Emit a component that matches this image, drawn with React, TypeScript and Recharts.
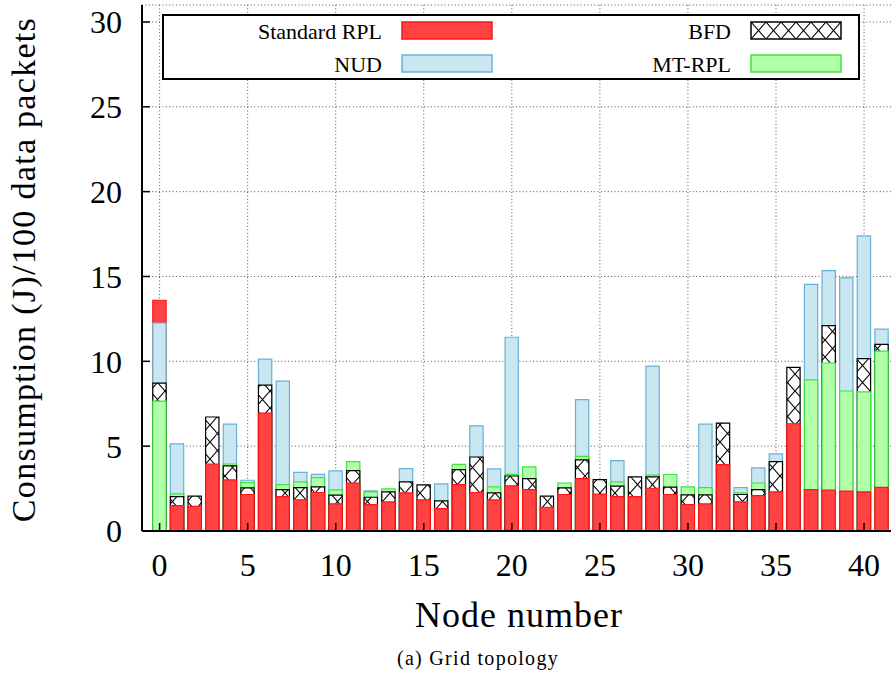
import { BarChart, Bar, XAxis, YAxis, CartesianGrid, Legend, Cell } from 'recharts';

const FONT = '"Liberation Serif", "Times New Roman", serif';

// node ids on the x axis
const nodes = [
  0, 1, 2, 3, 4, 5, 6, 7, 8, 9, 10, 11, 12, 13, 14, 15, 16, 17, 18, 19, 20,
  21, 22, 23, 24, 25, 26, 27, 28, 29, 30, 31, 32, 33, 34, 35, 36, 37, 38, 39, 40, 41,
];

// consumption (J) per 100 data packets (0 = not drawn)
const standardRpl = [
  13.6, 1.5, 1.45, 3.95, 3.01, 2.15, 6.95, 2.03, 1.84, 2.27, 1.6, 2.83, 1.56, 1.72,
  2.25, 1.83, 1.32, 2.73, 2.27, 1.83, 2.66, 2.44, 1.4, 2.15, 3.09, 2.17, 2.03, 2.03,
  2.52, 2.15, 1.56, 1.6, 3.91, 1.72, 2.09, 2.3, 6.32, 2.44, 2.41, 2.35, 2.31, 2.57,
];
const bfd = [
  8.72, 2.03, 2.05, 6.72, 3.84, 2.54, 8.6, 2.44, 2.56, 2.6, 2.12, 3.56, 1.99, 2.3,
  2.9, 2.72, 1.77, 3.62, 4.36, 2.25, 3.24, 3.09, 2.05, 2.54, 4.19, 3.03, 2.64, 3.19,
  3.19, 2.58, 2.13, 2.13, 6.36, 2.15, 2.44, 4.09, 9.64, 0, 12.1, 0, 10.16, 11.0,
];
const nud = [
  12.26, 5.13, 0, 0, 6.3, 2.99, 10.13, 8.83, 3.46, 3.34, 3.54, 0, 2.36, 0,
  3.68, 0, 2.78, 0, 6.2, 3.66, 11.42, 0, 0, 0, 7.74, 0, 4.15, 0,
  9.72, 0, 0, 6.3, 0, 2.56, 3.72, 4.54, 0, 14.54, 15.35, 14.92, 17.39, 11.9,
];
const mtRpl = [
  7.66, 2.19, 0, 0, 3.95, 2.85, 0, 2.73, 2.9, 3.14, 2.42, 4.09, 2.3, 2.48,
  0, 0, 0, 3.93, 0, 2.6, 3.34, 3.78, 0, 2.83, 4.4, 0, 2.9, 0,
  3.29, 3.33, 2.6, 2.56, 0, 2.25, 2.83, 0, 0, 8.91, 9.9, 8.25, 8.2, 10.6,
];

const xTicks = [0, 5, 10, 15, 20, 25, 30, 35, 40];
const yTicks = [0, 5, 10, 15, 20, 25, 30];

const series = [
  { name: 'Standard RPL', values: standardRpl, fill: '#ff4242', stroke: '#ff1414' },
  { name: 'BFD', values: bfd, fill: 'url(#bfdHatch)', stroke: '#000000' },
  { name: 'NUD', values: nud, fill: '#c9e7f1', stroke: '#66b2d8' },
  { name: 'MT-RPL', values: mtRpl, fill: '#b2ffaa', stroke: '#3ce43c' },
];

// gnuplot-style overlap: tallest box at the back, smaller ones in front
const layers = ['l0', 'l1', 'l2', 'l3'];
const rows = nodes.map((node, i) => {
  const order = series
    .map((s, k) => ({ k, v: s.values[i] }))
    .sort((a, b) => b.v - a.v);
  const row: Record<string, number> = { node };
  order.forEach((o, r) => {
    row[`l${r}`] = o.v;
    row[`s${r}`] = o.k;
  });
  return row;
});

const hatch = (id: string, x = 0, y = 0) => (
  <pattern id={id} patternUnits="userSpaceOnUse" x={x} y={y} width={15} height={17}>
    <rect width={15} height={17} fill="#fff" />
    <path d="M0,0 L15,17 M15,0 L0,17" stroke="#000" strokeWidth={1.1} />
  </pattern>
);

const renderLegend = () => (
  <svg width={698} height={66} style={{ display: 'block' }}>
    <defs>{hatch('bfdHatchKey', 589, 8)}</defs>
    <rect x={1} y={1} width={696} height={64} fill="#fff" stroke="#000" strokeWidth={2} />
    {series.map((s, i) => {
      const textRight = i % 2 ? 569 : 220;
      const rowY = i < 2 ? 8 : 41;
      return (
        <g key={s.name}>
          <text x={textRight} y={rowY + 16.5} textAnchor="end" fontSize={22} fontFamily={FONT} fill="#000">
            {s.name}
          </text>
          <rect
            x={textRight + 20}
            y={rowY}
            width={90}
            height={17}
            fill={s.name === 'BFD' ? 'url(#bfdHatchKey)' : s.fill}
            stroke={s.stroke}
            strokeWidth={1.5}
          />
        </g>
      );
    })}
  </svg>
);

const tickStyle = { fontSize: 32, fill: '#000', fontFamily: FONT };
const axisLine = { stroke: '#000', strokeWidth: 2 };
const tickLine = { stroke: '#000', strokeWidth: 1.5 };

export default function App() {
  return (
    <div
      style={{
        position: 'absolute',
        left: 0,
        top: 0,
        width: 891,
        height: 676,
        overflow: 'hidden',
        background: '#fff',
      }}
    >
      <BarChart
        width={895}
        height={676}
        data={rows}
        margin={{ top: 5, right: 1, left: 0, bottom: 0 }}
        barSize={13.3}
        barGap={-13.3}
      >
        <defs>{hatch('bfdHatch')}</defs>
        <CartesianGrid stroke="#555" strokeDasharray="1 2.4" />
        <XAxis
          dataKey="node"
          type="number"
          domain={[-1, 41.7]}
          ticks={xTicks}
          allowDataOverflow
          interval={0}
          height={145}
          tickSize={-8}
          tickMargin={30}
          tick={tickStyle}
          axisLine={axisLine}
          tickLine={tickLine}
          label={() => (
            <g>
              <text x={519} y={627} textAnchor="middle" fontSize={36} letterSpacing={1} fontFamily={FONT} fill="#000">
                Node number
              </text>
              <text x={478} y={665} textAnchor="middle" fontSize={20} letterSpacing={1.3} fontFamily={FONT} fill="#000">
                (a) Grid topology
              </text>
            </g>
          )}
        />
        <XAxis
          xAxisId="top"
          dataKey="node"
          type="number"
          orientation="top"
          domain={[-1, 41.7]}
          ticks={xTicks}
          allowDataOverflow
          height={0}
          tickSize={-8}
          tick={false}
          axisLine={axisLine}
          tickLine={tickLine}
        />
        <YAxis
          type="number"
          domain={[0, 31]}
          ticks={yTicks}
          allowDataOverflow
          interval={0}
          width={142}
          tickSize={-8}
          tickMargin={28}
          tick={tickStyle}
          axisLine={axisLine}
          tickLine={tickLine}
          label={() => (
            <text
              x={35}
              y={269.5}
              transform="rotate(-90 35 269.5)"
              textAnchor="middle"
              fontSize={34}
              letterSpacing={1.3}
              fontFamily={FONT}
              fill="#000"
            >
              Consumption (J)/100 data packets
            </text>
          )}
        />
        {layers.map((key, r) => (
          <Bar key={key} dataKey={key} isAnimationActive={false} legendType="none">
            {rows.map((row, i) => {
              const s = series[row[`s${r}`]];
              return <Cell key={i} fill={s.fill} stroke={s.stroke} strokeWidth={1.2} />;
            })}
          </Bar>
        ))}
        <Legend
          verticalAlign="middle"
          layout="horizontal"
          content={renderLegend}
          wrapperStyle={{ left: 162, top: 14, width: 698, height: 66 }}
        />
      </BarChart>
    </div>
  );
}
